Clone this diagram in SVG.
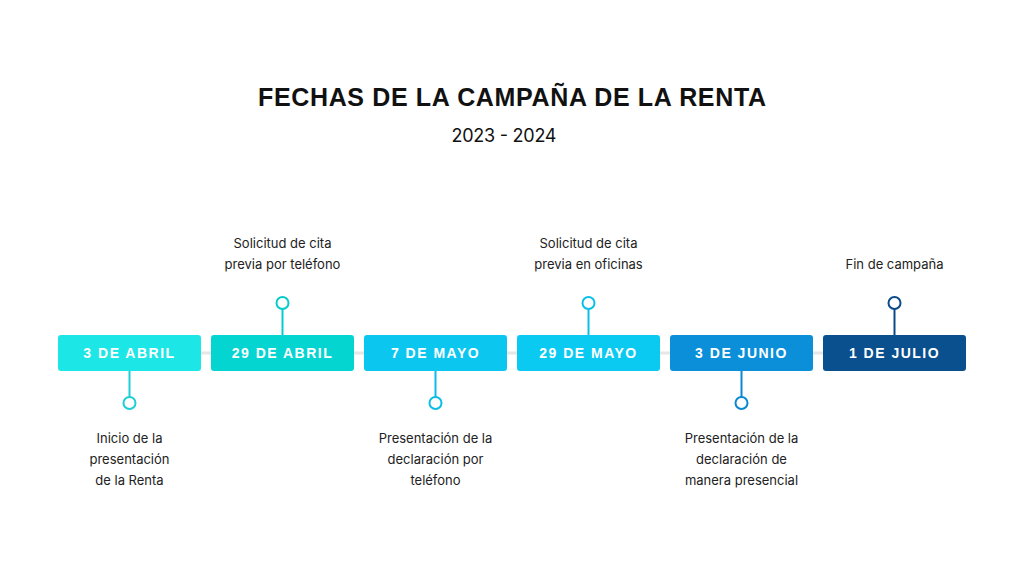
<svg xmlns="http://www.w3.org/2000/svg" width="1024" height="576" viewBox="0 0 1024 576">
<style>
.title{font-family:"Liberation Sans",Arial,sans-serif;font-weight:bold;font-size:25px;fill:#111;text-anchor:middle}
.sub{font-family:"Inter","Liberation Sans",sans-serif;font-size:18px;fill:#111;text-anchor:middle}
.lbl{font-family:"Liberation Sans",Arial,sans-serif;font-weight:bold;font-size:14px;letter-spacing:1.5px;fill:#fff;text-anchor:middle}
.desc{font-family:"Inter","Liberation Sans",sans-serif;font-size:13px;fill:#222;text-anchor:middle}
.stem{stroke-width:2;fill:none}
.dot{stroke-width:2;fill:#fff}
</style>
<rect width="1024" height="576" fill="#fff"/>
<text class="title" x="512" y="106" textLength="508" lengthAdjust="spacing">FECHAS DE LA CAMPAÑA DE LA RENTA</text>
<text class="sub" x="504" y="141.5" textLength="105" lengthAdjust="spacing">2023 - 2024</text>
<g id="connectors">
<line x1="58" y1="353" x2="966" y2="353" stroke="#e6e6e6" stroke-width="3"/>
<line class="stem" x1="129.5" y1="371" x2="129.5" y2="397" stroke="#1ccfd6"/>
<circle class="dot" cx="129.5" cy="403" r="6" stroke="#1ccfd6"/>
<line class="stem" x1="282.5" y1="309" x2="282.5" y2="335" stroke="#05ccca"/>
<circle class="dot" cx="282.5" cy="303" r="6" stroke="#05ccca"/>
<line class="stem" x1="435.5" y1="371" x2="435.5" y2="397" stroke="#0bbde6"/>
<circle class="dot" cx="435.5" cy="403" r="6" stroke="#0bbde6"/>
<line class="stem" x1="588.5" y1="309" x2="588.5" y2="335" stroke="#0bbfe8"/>
<circle class="dot" cx="588.5" cy="303" r="6" stroke="#0bbfe8"/>
<line class="stem" x1="741.5" y1="371" x2="741.5" y2="397" stroke="#0a88d2"/>
<circle class="dot" cx="741.5" cy="403" r="6" stroke="#0a88d2"/>
<line class="stem" x1="894.5" y1="309" x2="894.5" y2="335" stroke="#0a4a88"/>
<circle class="dot" cx="894.5" cy="303" r="6" stroke="#0a4a88"/>
</g>
<g id="n1">
<rect x="58" y="335" width="143" height="36" rx="3" fill="#1de6e6"/>
<text class="lbl" x="129.5" y="358">3 DE ABRIL</text>
<text class="desc" x="129.5" y="443">Inicio de la</text>
<text class="desc" x="129.5" y="464">presentación</text>
<text class="desc" x="129.5" y="485">de la Renta</text>
</g>
<g id="n2">
<rect x="211" y="335" width="143" height="36" rx="3" fill="#04d5d1"/>
<text class="lbl" x="282.5" y="358">29 DE ABRIL</text>
<text class="desc" x="282.5" y="248">Solicitud de cita</text>
<text class="desc" x="282.5" y="269">previa por teléfono</text>
</g>
<g id="n3">
<rect x="364" y="335" width="143" height="36" rx="3" fill="#0bc7ef"/>
<text class="lbl" x="435.5" y="358">7 DE MAYO</text>
<text class="desc" x="435.5" y="443">Presentación de la</text>
<text class="desc" x="435.5" y="464">declaración por</text>
<text class="desc" x="435.5" y="485">teléfono</text>
</g>
<g id="n4">
<rect x="517" y="335" width="143" height="36" rx="3" fill="#0bcaf2"/>
<text class="lbl" x="588.5" y="358">29 DE MAYO</text>
<text class="desc" x="588.5" y="248">Solicitud de cita</text>
<text class="desc" x="588.5" y="269">previa en oficinas</text>
</g>
<g id="n5">
<rect x="670" y="335" width="143" height="36" rx="3" fill="#0a8fd8"/>
<text class="lbl" x="741.5" y="358">3 DE JUNIO</text>
<text class="desc" x="741.5" y="443">Presentación de la</text>
<text class="desc" x="741.5" y="464">declaración de</text>
<text class="desc" x="741.5" y="485">manera presencial</text>
</g>
<g id="n6">
<rect x="823" y="335" width="143" height="36" rx="3" fill="#0a4f8e"/>
<text class="lbl" x="894.5" y="358">1 DE JULIO</text>
<text class="desc" x="894.5" y="269">Fin de campaña</text>
</g>
</svg>
